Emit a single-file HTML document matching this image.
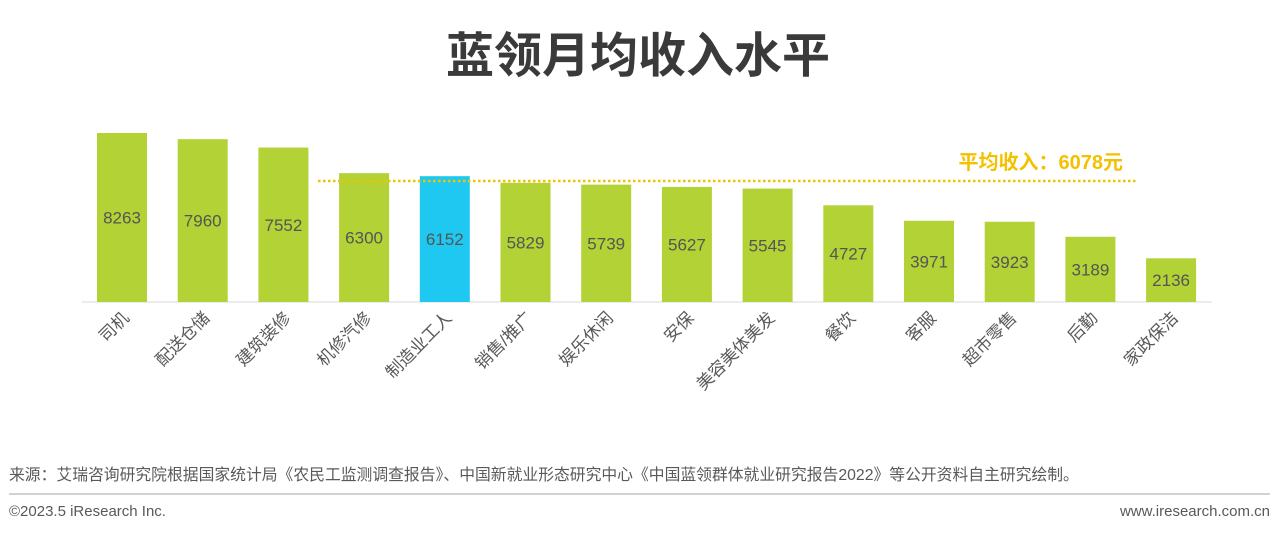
<!DOCTYPE html>
<html><head><meta charset="utf-8"><style>
body{margin:0;background:#fff;width:1280px;height:535px;overflow:hidden}
svg text{font-family:"Liberation Sans","Noto Sans CJK SC",sans-serif}
</style></head><body>
<svg width="1280" height="535" xmlns="http://www.w3.org/2000/svg">
<text x="638" y="72" text-anchor="middle" font-size="48" font-weight="bold" fill="#3a3a3a">蓝领月均收入水平</text>
<line x1="82" y1="302" x2="1212" y2="302" stroke="#e6e6e6" stroke-width="1.5"/>
<g id="bars"></g>
<line x1="318" y1="181" x2="1137" y2="181" stroke="#f2c200" stroke-width="2.5" stroke-dasharray="2.5,2.5"/>
<text x="1123" y="169" text-anchor="end" font-size="20" font-weight="bold" fill="#f5c000">平均收入：6078元</text>
<text x="9" y="480" font-size="15.8" fill="#595959">来源：艾瑞咨询研究院根据国家统计局《农民工监测调查报告》、中国新就业形态研究中心《中国蓝领群体就业研究报告2022》等公开资料自主研究绘制。</text>
<line x1="9" y1="494" x2="1270" y2="494" stroke="#a6a6a6" stroke-width="1"/>
<text x="9" y="516" font-size="15" fill="#595959">©2023.5 iResearch Inc.</text>
<text x="1270" y="516" text-anchor="end" font-size="15" fill="#595959">www.iresearch.com.cn</text>
</svg>
<script>
var d=[["司机",8263],["配送仓储",7960],["建筑装修",7552],["机修汽修",6300],["制造业工人",6152],["销售/推广",5829],["娱乐休闲",5739],["安保",5627],["美容美体美发",5545],["餐饮",4727],["客服",3971],["超市零售",3923],["后勤",3189],["家政保洁",2136]];
var s="";var k=169/8263;
d.forEach(function(e,i){var x=97+i*80.7,h=e[1]*k,t=302-h,c=x+25;
s+='<rect x="'+x+'" y="'+t+'" width="50" height="'+h+'" fill="'+(i==4?'#1fc8f0':'#b2d235')+'"/>';
s+='<text x="'+c+'" y="'+(t+h/2+6)+'" text-anchor="middle" font-size="17" fill="#555">'+e[1]+'</text>';
s+='<text transform="translate('+(c+8)+',319) rotate(-45)" text-anchor="end" font-size="17" fill="#595959">'+e[0]+'</text>';});
document.getElementById('bars').innerHTML=s;
</script>
</body></html>
